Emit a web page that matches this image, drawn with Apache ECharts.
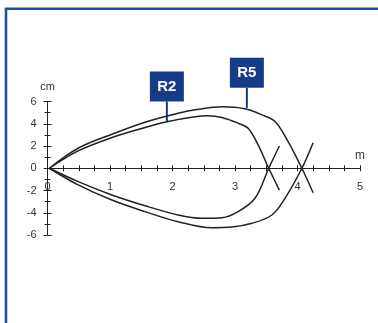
<!DOCTYPE html>
<html>
<head>
<meta charset="utf-8">
<style>
html, body { margin: 0; padding: 0; background: #fff; }
#chart { width: 378px; height: 323px; }
</style>
<script src="https://cdn.jsdelivr.net/npm/echarts@6/dist/echarts.min.js"></script>
</head>
<body>
<div id="chart"></div>
<script>
// R2 curve (m, cm)
var r2UpperX = [0.03, 0.49, 1.03, 1.56, 1.93, 2.36, 2.57, 2.79, 3.05, 3.21, 3.37, 3.54, 3.71];
var r2UpperY = [0, 1.56, 2.76, 3.66, 4.2, 4.62, 4.71, 4.56, 4.05, 3.6, 2.1, 0, -1.96];
var r2LowerX = [0.03, 0.49, 1.03, 1.56, 2.09, 2.47, 2.79, 3.05, 3.32, 3.54, 3.71];
var r2LowerY = [0, -1.2, -2.4, -3.37, -4.2, -4.5, -4.45, -3.9, -2.7, 0, 2.0];
// R5 curve
var r5UpperX = [0.03, 0.49, 1.03, 1.56, 2.09, 2.36, 2.79, 3.16, 3.43, 3.64, 3.85, 4.07, 4.25];
var r5UpperY = [0, 1.8, 3.06, 4.14, 4.95, 5.25, 5.52, 5.34, 4.8, 4.2, 2.4, 0, -2.2];
var r5LowerX = [0.03, 0.49, 1.03, 1.56, 2.09, 2.63, 2.95, 3.27, 3.59, 3.8, 4.07, 4.25];
var r5LowerY = [0, -1.5, -2.86, -3.9, -4.8, -5.35, -5.29, -4.95, -4.2, -2.7, 0, 2.3];

// 标注
var tagNames = ['R2', 'R5'];
var tagX = [1.91, 3.19];
var tagY = [4.2, 5.43];

var font = 'Liberation Sans, Arial, sans-serif';
var axisColor = '#222';
var navy = '#173a89';

function pairs(xs, ys) {
	return xs.map(function(x, i) { return [x, ys[i]]; });
}

function curve(name, xs, ys) {
	return {
		name: name,
		type: 'line',
		xAxisIndex: 0,
		yAxisIndex: 0,
		smooth: 0.35,
		symbol: 'none',
		lineStyle: { color: '#222', width: 1.5 },
		data: pairs(xs, ys)
	};
}

function xAxisCfg(pos, showLabel) {
	return {
		type: 'value',
		position: pos,
		min: 0,
		max: 5,
		interval: 1,
		name: showLabel ? 'm' : '',
		nameLocation: 'end',
		nameGap: 0,
		nameTextStyle: { color: '#333', fontSize: 12, fontFamily: font, align: 'center', verticalAlign: 'bottom', padding: [0, 0, 7, 0] },
		axisLine: { show: true, onZero: true, onZeroAxisIndex: 0, lineStyle: { color: axisColor, width: 1 } },
		axisTick: { show: true, inside: false, length: 3, lineStyle: { color: axisColor } },
		minorTick: { show: true, splitNumber: 4, length: 3, lineStyle: { color: axisColor } },
		splitLine: { show: false },
		// labels sit under the zero line, not under the grid
		axisLabel: { show: showLabel, color: '#333', fontSize: 11, fontFamily: font, margin: -53.5 }
	};
}

function yAxisCfg(pos, showLabel) {
	return {
		type: 'value',
		position: pos,
		min: -6,
		max: 6,
		interval: 2,
		name: showLabel ? 'cm' : '',
		nameLocation: 'end',
		nameGap: 9,
		nameTextStyle: { color: '#333', fontSize: 11, fontFamily: font },
		axisLine: { show: true, onZero: true, onZeroAxisIndex: 0, lineStyle: { color: axisColor, width: 1 } },
		axisTick: { show: true, inside: false, length: 4, lineStyle: { color: axisColor } },
		minorTick: { show: true, splitNumber: 2, length: 3, lineStyle: { color: axisColor } },
		splitLine: { show: false },
		axisLabel: { show: showLabel, color: '#333', fontSize: 11, fontFamily: font, margin: 11 }
	};
}

var chart = echarts.init(document.getElementById('chart'), null, { renderer: 'canvas' });
chart.setOption({
	animation: false,
	backgroundColor: '#fff',
	grid: { left: 47.5, right: 18, top: 101.5, bottom: 88, containLabel: false },
	xAxis: [xAxisCfg('bottom', true), xAxisCfg('top', false)],
	yAxis: [yAxisCfg('left', true), yAxisCfg('right', false)],
	series: [
		curve('R2 upper', r2UpperX, r2UpperY),
		curve('R2 lower', r2LowerX, r2LowerY),
		curve('R5 upper', r5UpperX, r5UpperY),
		curve('R5 lower', r5LowerX, r5LowerY)
	]
});

// 外框 + 标签
var graphics = [{
	type: 'rect',
	shape: { x: 6, y: 8.7, width: 500, height: 500 },
	style: { fill: null, stroke: '#1f4f9f', lineWidth: 2.6 },
	silent: true
}];
tagNames.forEach(function(name, i) {
	var p = chart.convertToPixel({ xAxisIndex: 0, yAxisIndex: 0 }, [tagX[i], tagY[i]]);
	var stem = 20, w = 34, h = 30;
	graphics.push({
		type: 'line',
		shape: { x1: p[0], y1: p[1], x2: p[0], y2: p[1] - stem },
		style: { stroke: navy, lineWidth: 2 },
		silent: true
	});
	graphics.push({
		type: 'rect',
		shape: { x: p[0] - w / 2, y: p[1] - stem - h, width: w, height: h },
		style: { fill: navy },
		silent: true
	});
	graphics.push({
		type: 'text',
		x: p[0],
		y: p[1] - stem - h / 2,
		style: { text: name, fill: '#fff', font: 'bold 15px ' + font, align: 'center', verticalAlign: 'middle' },
		silent: true
	});
});
chart.setOption({ graphic: graphics });
</script>
</body>
</html>
